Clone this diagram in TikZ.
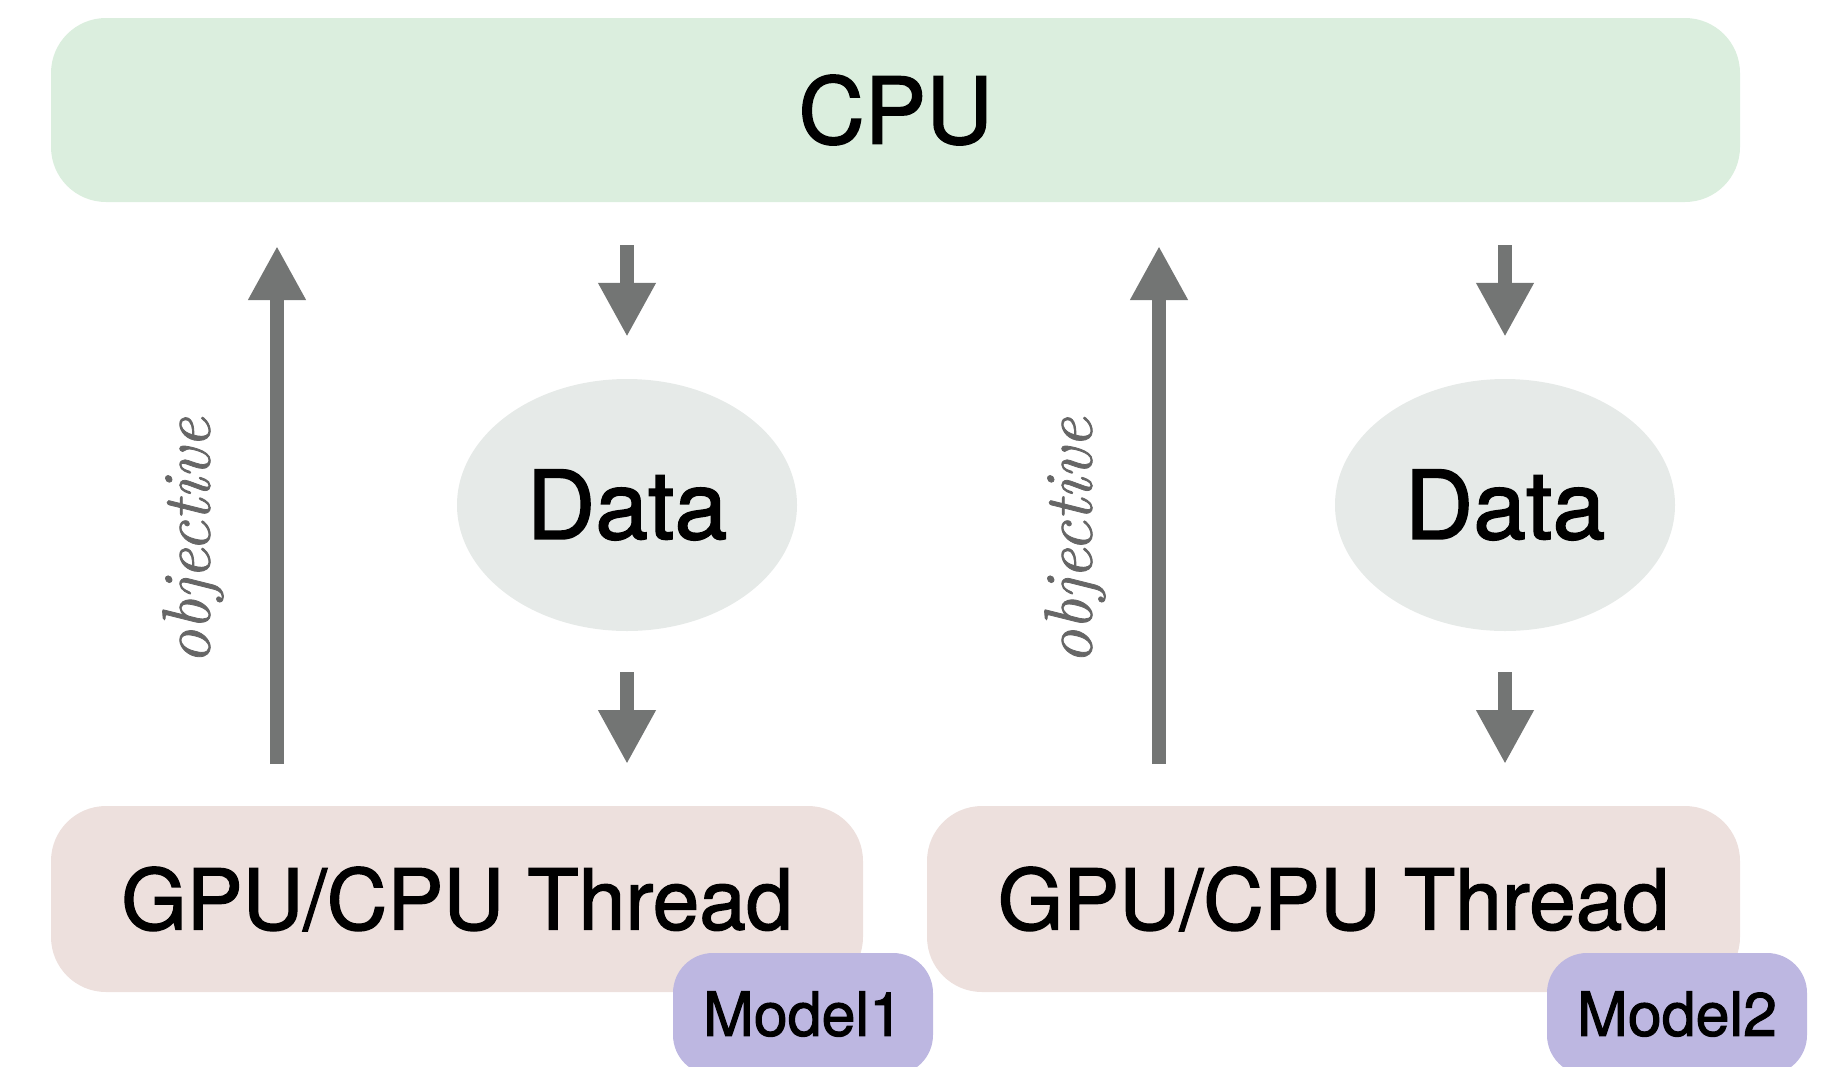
\documentclass[tikz,border=0pt]{standalone}
\usepackage{fontspec}
\setsansfont{TeX Gyre Heros}[RawFeature={embolden=1.6}]
\newfontfamily\objfont{Latin Modern Roman}[RawFeature={embolden=1.2}]
\usepackage{tikz}
\usetikzlibrary{positioning}
\usetikzlibrary{shapes.geometric}
\usetikzlibrary{arrows.meta}

\definecolor{cpugreen}{RGB}{219,238,222}
\definecolor{datagray}{RGB}{230,234,232}
\definecolor{threadpink}{RGB}{237,224,221}
\definecolor{modelpurple}{RGB}{189,183,225}
\definecolor{arrowgray}{RGB}{115,117,116}

\begin{document}
\begin{tikzpicture}[
        x = 1pt, y = -1pt,
        box/.style = {
            rectangle,
            rounded corners = #1,
            inner sep = 0pt,
            outer sep = 0pt,
            font = \sffamily
        },
        box/.default = 55pt,
        data/.style = {
            ellipse,
            fill = datagray,
            minimum width = 340pt,
            minimum height = 252pt,
            inner sep = 0pt,
            font = \sffamily\fontsize{95}{95}\selectfont
        },
        flow/.style = {
            draw = arrowgray,
            line width = 14pt,
            -{Triangle[width=54pt, length=54pt]}
        }
    ]
    \useasboundingbox (0,0) rectangle (1834,1066);

    \node[box, fill=cpugreen, minimum width=1689pt, minimum height=184pt,
          font=\sffamily\fontsize{92}{92}\selectfont] (cpu) at (895.5,110) {CPU};

    \node[data] (d1) at (627,505) {Data};
    \node[data] (d2) at (1505,505) {Data};

    \node[box, fill=threadpink, minimum width=812pt, minimum height=186pt,
          font=\sffamily\fontsize{84}{84}\selectfont] (t1) at (457,899) {GPU/CPU Thread};
    \node[box, fill=threadpink, minimum width=813pt, minimum height=186pt,
          font=\sffamily\fontsize{84}{84}\selectfont] (t2) at (1333.5,899) {GPU/CPU Thread};

    \node[box=40pt, fill=modelpurple, minimum width=260pt, minimum height=122pt,
          font=\sffamily\fontsize{61}{61}\selectfont] (m1) at (803,1014) {Model1};
    \node[box=40pt, fill=modelpurple, minimum width=260pt, minimum height=122pt,
          font=\sffamily\fontsize{61}{61}\selectfont] (m2) at (1677,1014) {Model2};

    \coordinate (up1) at (277,505);
    \coordinate (up2) at (1159,505);

    % objective goes up, data goes down
    \draw[flow, shorten <=42pt, shorten >=44pt] (t1.north -| up1) -- (cpu.south -| up1);
    \draw[flow, shorten <=42pt, shorten >=44pt] (t2.north -| up2) -- (cpu.south -| up2);

    \draw[flow, shorten <=43pt, shorten >=42pt] (cpu.south -| d1) -- (d1.north);
    \draw[flow, shorten <=41pt, shorten >=42pt] (d1.south) -- (t1.north -| d1);
    \draw[flow, shorten <=43pt, shorten >=42pt] (cpu.south -| d2) -- (d2.north);
    \draw[flow, shorten <=41pt, shorten >=42pt] (d2.south) -- (t2.north -| d2);

    \node[rotate=90, text=black!60, font=\objfont\itshape\fontsize{68}{68}\selectfont] (o1) at (193,541) {objective};
    \node[rotate=90, text=black!60, font=\objfont\itshape\fontsize{68}{68}\selectfont] (o2) at (1075,541) {objective};

\end{tikzpicture}
\end{document}
